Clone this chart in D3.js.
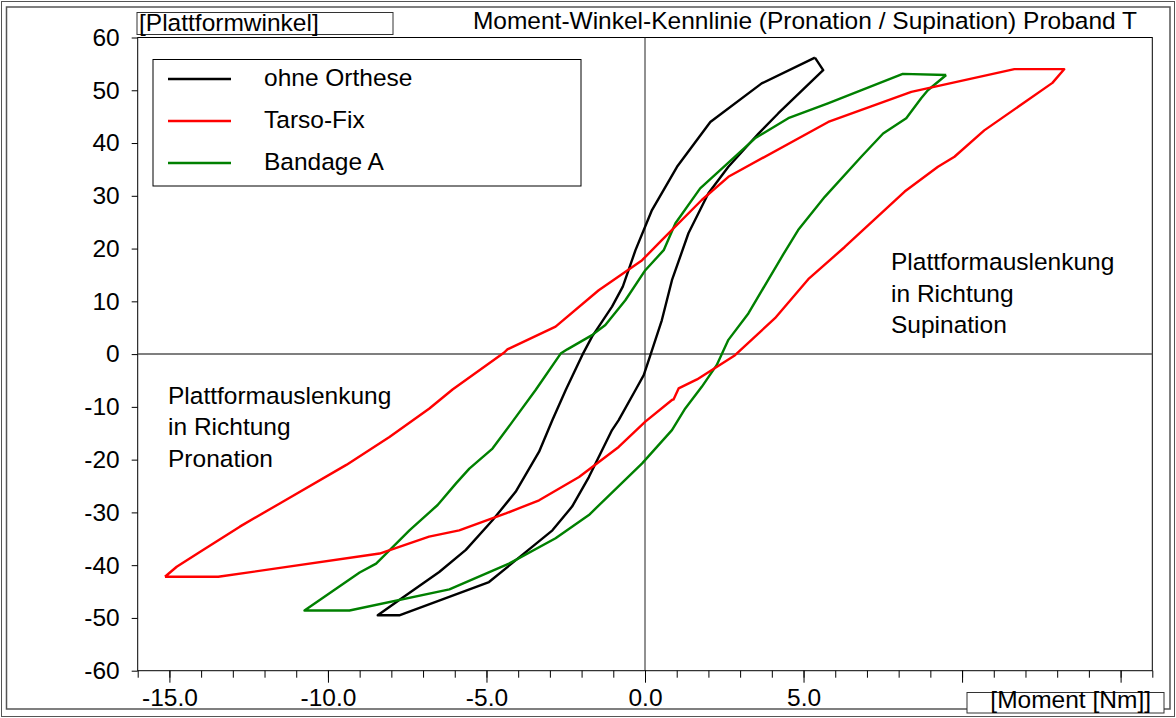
<!DOCTYPE html>
<html>
<head>
<meta charset="utf-8">
<script src="https://cdn.jsdelivr.net/npm/d3@7"></script>
<style>
  body { margin: 0; background: #fff; }
  svg { display: block; font-family: "Liberation Sans", Arial, sans-serif; }
</style>
</head>
<body>
<div id="chart"></div>
<script>
// Moment [Nm] / Plattformwinkel [deg], one closed loop per series
const ohneMoment = [5.36, 5.62, 4.20, 3.58, 2.63, 2.00, 1.37, 0.85, 0.69, 0.53, 0.17, -0.04, -0.30, -0.83, -1.04, -1.77, -2.30, -2.92, -4.92, -7.75, -8.43,
  -7.75, -6.49, -5.65, -4.81, -4.08, -3.34, -2.92, -2.50, -1.98, -1.67, -1.04, -0.70, -0.30, 0.22, 1.01, 2.06, 3.68, 5.36];
const ohneWinkel = [56.2, 53.8, 45.6, 41.8, 35.5, 30.5, 22.9, 14.0, 10.2, 6.4, -0.2, -4.0, -6.8, -12.5, -14.4, -23.3, -28.9, -33.4, -43.2, -49.5, -49.5,
  -46.6, -41.3, -37.1, -31.5, -26.1, -18.5, -12.5, -6.8, -0.2, 3.3, 9.0, 12.8, 19.7, 27.3, 35.5, 44.0, 51.3, 56.2];

const tarsoMoment = [-15.14, -13.46, -8.37, -6.81, -5.86, -4.39, -3.34, -2.08, -0.83, 0.01, 0.85, 0.90, 1.06, 1.64, 2.84, 4.10, 5.15, 6.30, 8.19, 9.24, 9.76, 10.70, 12.85, 13.22,
  11.65, 8.40, 5.78, 2.63, 1.79, 0.53, -0.09, -1.46, -2.82, -4.34, -4.44, -6.07, -6.80, -8.06, -9.42, -11.52, -12.78, -14.04, -14.77, -15.14];
const tarsoWinkel = [-42.2, -42.2, -37.8, -34.6, -33.4, -30.2, -27.7, -23.3, -17.6, -12.8, -8.7, -8.6, -6.5, -4.8, -0.2, 6.8, 14.2, 20.3, 30.8, 35.5, 37.4, 42.4, 51.4, 54.0,
  54.0, 49.7, 44.0, 33.6, 29.2, 21.6, 17.8, 12.1, 5.2, 0.9, 0.3, -6.7, -10.3, -15.7, -21.0, -28.3, -32.7, -37.5, -40.3, -42.2];

const bandMoment = [9.50, 8.92, 8.71, 8.24, 7.51, 6.82, 5.67, 4.83, 4.31, 3.26, 2.63, 2.26, 1.79, 1.27, 0.85, -0.09, -1.77, -2.82, -4.29, -6.17, -9.32, -10.74,
  -9.00, -8.48, -7.43, -6.54, -5.96, -5.54, -4.81, -4.18, -3.45, -2.66, -2.45, -1.67, -1.25, -0.62, 0.01, 0.59, 0.96, 1.74, 3.47, 4.52, 5.77, 8.13, 9.50];
const bandWinkel = [52.9, 50.0, 48.5, 44.7, 41.8, 37.4, 29.8, 23.5, 18.4, 7.7, 2.7, -2.1, -6.2, -10.3, -14.4, -20.7, -30.5, -34.9, -39.7, -44.6, -48.6, -48.6,
  -41.4, -39.7, -33.4, -28.6, -24.5, -21.7, -17.9, -12.8, -6.8, 0.1, 0.9, 3.6, 5.5, 10.2, 15.9, 19.7, 24.8, 31.4, 40.9, 44.7, 47.5, 53.1, 52.9];

const seriesNames = ["ohne Orthese", "Tarso-Fix", "Bandage A"];
const seriesColors = ["#000000", "#ff0000", "#008000"];
const yTicks = [-60, -50, -40, -30, -20, -10, 0, 10, 20, 30, 40, 50, 60];
const xMajor = [-15, -10, -5, 0, 5, 10, 15];
const xLabelled = [-15, -10, -5, 0, 5];
const noteSupination = ["Plattformauslenkung", "in Richtung", "Supination"];
const notePronation = ["Plattformauslenkung", "in Richtung", "Pronation"];

const W = 1176, H = 718;
const plotLeft = 137.7, plotRight = 1152.3, plotTop = 37.5, plotBottom = 670.7;
const fontSize = 24.5;

const svg = d3.select("#chart").append("svg")
  .attr("width", W)
  .attr("height", H);

// double outer frame
svg.append("rect").attr("x", 1.5).attr("y", 1.5).attr("width", W - 3).attr("height", H - 3)
  .attr("fill", "none").attr("stroke", "#555").attr("stroke-width", 1);
svg.append("rect").attr("x", 6.5).attr("y", 7).attr("width", 1163.5).attr("height", 702)
  .attr("fill", "none").attr("stroke", "#555").attr("stroke-width", 1.5);

const x = d3.scaleLinear().domain([-16, 16]).range([plotLeft, plotRight]);
const y = d3.scaleLinear().domain([-60, 60]).range([plotBottom, plotTop]);

// plain hyphen instead of d3's unicode minus
const hyphen = f => d => f(d).replace("\u2212", "-");

// plot box
svg.append("rect")
  .attr("x", plotLeft).attr("y", plotTop)
  .attr("width", plotRight - plotLeft).attr("height", plotBottom - plotTop)
  .attr("fill", "none").attr("stroke", "#000").attr("stroke-width", 1);

// zero lines
svg.append("line")
  .attr("x1", plotLeft).attr("x2", plotRight).attr("y1", y(0)).attr("y2", y(0))
  .attr("stroke", "#555").attr("stroke-width", 1.5);
svg.append("line")
  .attr("x1", x(0)).attr("x2", x(0)).attr("y1", plotTop).attr("y2", plotBottom)
  .attr("stroke", "#222").attr("stroke-width", 1);

// axes
const yAxis = svg.append("g")
  .attr("transform", `translate(${plotLeft},0)`)
  .call(d3.axisLeft(y).tickValues(yTicks).tickSize(6).tickPadding(12).tickFormat(hyphen(d3.format("d"))));

const xMinor = svg.append("g")
  .attr("transform", `translate(0,${plotBottom})`)
  .call(d3.axisBottom(x).tickValues(d3.range(-16, 17)).tickSize(7).tickFormat(""));

const xAxis = svg.append("g")
  .attr("transform", `translate(0,${plotBottom})`)
  .call(d3.axisBottom(x).tickValues(xMajor).tickSize(12).tickPadding(6)
    .tickFormat(d => xLabelled.includes(d) ? hyphen(d3.format(".1f"))(d) : ""));

[yAxis, xMinor, xAxis].forEach(g => {
  g.select(".domain").remove();
  g.selectAll("line").attr("stroke", "#000").attr("stroke-width", 1);
  g.selectAll("text").attr("font-size", fontSize).attr("fill", "#000")
    .attr("font-family", "'Liberation Sans', Arial, sans-serif");
});

// loops
const line = d3.line()
  .x(d => x(d[0]))
  .y(d => y(d[1]));

const loops = [
  d3.zip(ohneMoment, ohneWinkel),
  d3.zip(tarsoMoment, tarsoWinkel),
  d3.zip(bandMoment, bandWinkel)
];

[0, 2, 1].forEach(i => {
  svg.append("path")
    .datum(loops[i])
    .attr("fill", "none")
    .attr("stroke", seriesColors[i])
    .attr("stroke-width", 2.4)
    .attr("stroke-linejoin", "round")
    .attr("d", line);
});

// legend
const legend = svg.append("g");
legend.append("rect")
  .attr("x", 153).attr("y", 59.5).attr("width", 428).attr("height", 126.5)
  .attr("fill", "#fff").attr("stroke", "#000").attr("stroke-width", 1);
seriesNames.forEach((name, i) => {
  const ly = 79 + i * 42;
  legend.append("line")
    .attr("x1", 168).attr("x2", 231).attr("y1", ly).attr("y2", ly)
    .attr("stroke", seriesColors[i]).attr("stroke-width", 2.4);
  legend.append("text")
    .attr("x", 264).attr("y", ly + 7)
    .attr("font-size", fontSize)
    .text(name);
});

// annotations
function note(lines, x0, y0, step) {
  const t = svg.append("text").attr("font-size", fontSize).attr("fill", "#000");
  lines.forEach((s, i) => {
    t.append("tspan").attr("x", x0).attr("y", y0 + i * step).text(s);
  });
}
note(noteSupination, 891, 270, 31.7);
note(notePronation, 168, 403.5, 31.5);

// axis label boxes and title
svg.append("rect")
  .attr("x", 137).attr("y", 12.5).attr("width", 256).attr("height", 22)
  .attr("fill", "#fff").attr("stroke", "#333").attr("stroke-width", 1);
svg.append("text")
  .attr("x", 139).attr("y", 31)
  .attr("font-size", fontSize)
  .text("[Plattformwinkel]");

svg.append("text")
  .attr("x", 1137).attr("y", 29)
  .attr("text-anchor", "end")
  .attr("font-size", fontSize)
  .text("Moment-Winkel-Kennlinie (Pronation / Supination) Proband T");

svg.append("rect")
  .attr("x", 967).attr("y", 692.5).attr("width", 197).attr("height", 20.5)
  .attr("fill", "#fff").attr("stroke", "#333").attr("stroke-width", 1);
svg.append("text")
  .attr("x", 1151).attr("y", 708)
  .attr("text-anchor", "end")
  .attr("font-size", fontSize)
  .text("[Moment [Nm]]");
</script>
</body>
</html>
